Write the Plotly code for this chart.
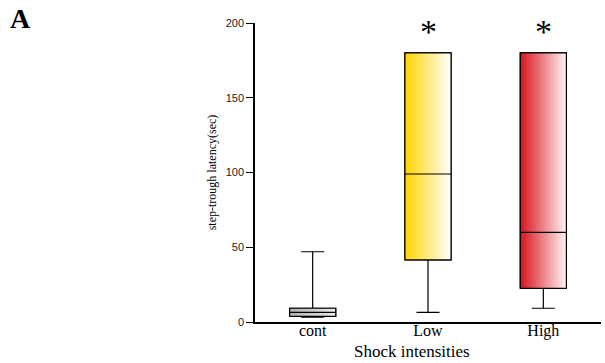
import plotly.graph_objects as go

categories = ["cont", "Low", "High"]
lower = [3.3, 6.5, 9.2]
q1 = [3.8, 41.5, 22.5]
median = [6.5, 99, 60]
q3 = [9.2, 180, 180]
upper = [47, 180, 180]
sig = ["", "*", "*"]
grad_left = ["#b0b0b0", "#ffd400", "#d8141c"]
grad_right = ["#ececec", "#ffffff", "#fff4f5"]

box_w = 0.4
fig = go.Figure()

# whiskers (box layer sits below scatter layer)
for i, c in enumerate(categories):
    fig.add_trace(go.Box(
        x=[i], q1=[q1[i]], median=[median[i]], q3=[q3[i]],
        lowerfence=[lower[i]], upperfence=[upper[i]],
        width=box_w, whiskerwidth=0.5,
        fillcolor="rgba(0,0,0,0)", line=dict(color="black", width=1.2),
        showlegend=False, boxpoints=False, hoverinfo="skip"))

# gradient-filled boxes with outline
for i, c in enumerate(categories):
    x0, x1 = i - box_w / 2, i + box_w / 2
    fig.add_trace(go.Scatter(
        x=[x0, x1, x1, x0, x0], y=[q1[i], q1[i], q3[i], q3[i], q1[i]],
        mode="lines", line=dict(width=1.2, color="black"), fill="toself",
        fillgradient=dict(type="horizontal",
                          colorscale=[[0, grad_left[i]], [1, grad_right[i]]]),
        hoverinfo="skip", showlegend=False))
    fig.add_trace(go.Scatter(
        x=[x0, x1], y=[median[i], median[i]], mode="lines",
        line=dict(width=1.2, color="black"), hoverinfo="skip", showlegend=False))

for i, s in enumerate(sig):
    if s:
        fig.add_annotation(x=i, y=194, text=s, showarrow=False,
                           font=dict(family="Liberation Serif", size=34, color="black"))

fig.add_annotation(xref="paper", yref="paper", x=-255/346 + 8/346, y=1 + (23-18)/299,
                   text="<b>A</b>", showarrow=False, xanchor="left", yanchor="middle",
                   font=dict(family="Liberation Serif", size=28, color="black"))

# x-axis title
fig.add_annotation(xref="paper", yref="paper", x=0.5 - 16/346, y=-(351-322)/299,
                   text="Shock intensities", showarrow=False, xanchor="center", yanchor="middle",
                   font=dict(family="Liberation Serif", size=17, color="black"))

fig.update_layout(
    width=605, height=363, margin=dict(l=255, r=4, t=23, b=41),
    paper_bgcolor="white", plot_bgcolor="white",
    xaxis=dict(range=[-0.5, 2.5], tickvals=[0, 1, 2], ticktext=categories,
               showline=True, linecolor="black", linewidth=1.5, showgrid=False,
               zeroline=False, ticks="", ticklabelstandoff=-7,
               tickfont=dict(family="Liberation Serif", size=16, color="black")),
    yaxis=dict(range=[0, 200], tickvals=[0, 50, 100, 150, 200],
               showline=True, linecolor="black", linewidth=1.5, showgrid=False,
               zeroline=False, ticks="outside", ticklen=7, tickcolor="black",
               tickfont=dict(family="Liberation Sans", size=11, color="#222"),
               title=dict(text="step-trough latency(sec)", standoff=6,
                          font=dict(family="Liberation Serif", size=12, color="black"))),
)

fig.write_html("out.html")
